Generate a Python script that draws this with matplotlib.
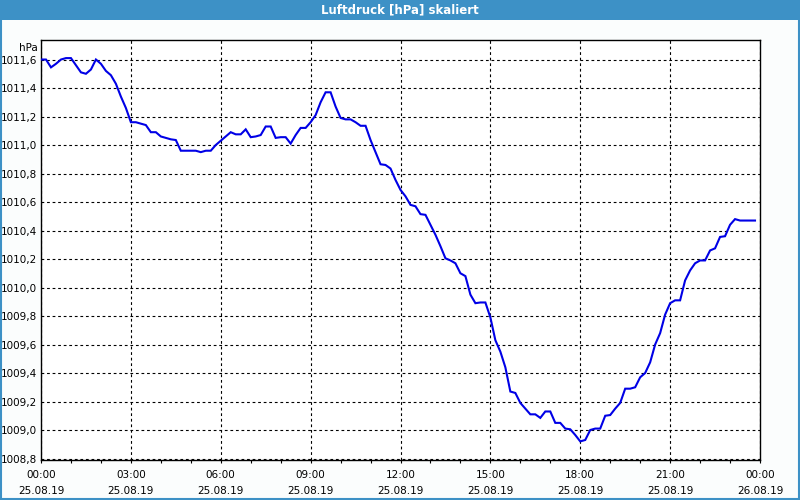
import numpy as np
import pandas as pd
import matplotlib
matplotlib.use("Agg")
import matplotlib.pyplot as plt
import matplotlib.dates as mdates
from matplotlib.patches import Rectangle
from matplotlib.ticker import FuncFormatter

title = "Luftdruck [hPa] skaliert"
unit_label = "hPa"

# 10-minute readings, 25.08.19 00:00 .. 23:50
start_time = "2019-08-25 00:00"
pressure = [
    1011.60, 1011.60, 1011.545, 1011.57, 1011.60, 1011.61, 1011.61, 1011.56, 1011.51, 1011.50,
    1011.53, 1011.60, 1011.57, 1011.52, 1011.49, 1011.43, 1011.34, 1011.26, 1011.16, 1011.16,
    1011.15, 1011.14, 1011.09, 1011.09, 1011.06, 1011.05, 1011.04, 1011.035, 1010.96, 1010.96,
    1010.96, 1010.96, 1010.95, 1010.96, 1010.96, 1011.00, 1011.03, 1011.06, 1011.09, 1011.075,
    1011.075, 1011.11, 1011.055, 1011.06, 1011.07, 1011.13, 1011.13, 1011.05, 1011.055, 1011.055,
    1011.01, 1011.07, 1011.12, 1011.12, 1011.16, 1011.21, 1011.30, 1011.37, 1011.37, 1011.27,
    1011.19, 1011.18, 1011.18, 1011.16, 1011.135, 1011.135, 1011.035, 1010.95, 1010.865, 1010.86,
    1010.835, 1010.755, 1010.685, 1010.64, 1010.58, 1010.57, 1010.515, 1010.51, 1010.44, 1010.37,
    1010.29, 1010.205, 1010.19, 1010.17, 1010.10, 1010.08, 1009.95, 1009.89, 1009.895, 1009.895,
    1009.79, 1009.63, 1009.55, 1009.44, 1009.27, 1009.26, 1009.19, 1009.15, 1009.11, 1009.11,
    1009.085, 1009.13, 1009.13, 1009.05, 1009.05, 1009.01, 1009.005, 1008.965, 1008.92, 1008.93,
    1009.00, 1009.01, 1009.01, 1009.10, 1009.105, 1009.15, 1009.19, 1009.29, 1009.29, 1009.30,
    1009.37, 1009.40, 1009.475, 1009.60, 1009.68, 1009.81, 1009.89, 1009.91, 1009.91, 1010.05,
    1010.12, 1010.17, 1010.19, 1010.19, 1010.26, 1010.275, 1010.355, 1010.36, 1010.44, 1010.48,
    1010.47, 1010.47, 1010.47, 1010.47,
]
times = pd.date_range(start_time, periods=len(pressure), freq="10min")

y_ticks = [1008.8, 1009.0, 1009.2, 1009.4, 1009.6, 1009.8, 1010.0, 1010.2,
           1010.4, 1010.6, 1010.8, 1011.0, 1011.2, 1011.4, 1011.6]

BLUE_BAR = "#3d91c6"
BG = "#fbfdfd"

fig = plt.figure(figsize=(8, 5), dpi=100, facecolor=BG)
# title bar
fig.patches.append(Rectangle((0, 0.96), 1, 0.04, transform=fig.transFigure,
                             facecolor=BLUE_BAR, edgecolor="none", zorder=0))
# outer frame
fig.patches.append(Rectangle((0.0015, 0.002), 0.997, 0.99, transform=fig.transFigure,
                             facecolor="none", edgecolor=BLUE_BAR, lw=1.5, zorder=1))
fig.text(0.5, 0.98, title, ha="center", va="center", color="white",
         fontsize=8.5, fontweight="bold", family="DejaVu Sans")

ax = fig.add_axes([41 / 800, 0.08, (760 - 41) / 800, 0.84])
ax.set_facecolor("white")
ax.plot(times, pressure, color="#0000e6", lw=1.5, solid_joinstyle="miter", zorder=3)

ax.set_xlim(pd.Timestamp("2019-08-25 00:00"), pd.Timestamp("2019-08-26 00:00"))
ax.set_ylim(1008.7895, 1011.737)

ax.xaxis.set_major_locator(mdates.HourLocator(byhour=range(0, 24, 3)))
ax.xaxis.set_minor_locator(mdates.HourLocator())
ax.xaxis.set_major_formatter(mdates.DateFormatter("%H:%M\n%d.%m.%y"))
ax.set_yticks(y_ticks)
ax.yaxis.set_major_formatter(FuncFormatter(lambda v, p: f"{v:.1f}".replace(".", ",")))

ax.grid(True, which="major", color="black", linestyle=(0, (2.5, 2.5)), lw=0.8)
ax.tick_params(axis="x", which="both", direction="out", length=2.5, width=0.8,
               labelsize=7.5, pad=5, colors="black")
ax.tick_params(axis="y", length=0, labelsize=7.5, pad=3)
for lbl in ax.get_xticklabels():
    lbl.set_linespacing(1.7)
for s in ax.spines.values():
    s.set_linewidth(1.0)
    s.set_color("black")

ax.text(-0.004, 0.992, unit_label, transform=ax.transAxes, ha="right", va="top",
        fontsize=7.5)

fig.savefig("out.png", dpi=100, facecolor=BG)
